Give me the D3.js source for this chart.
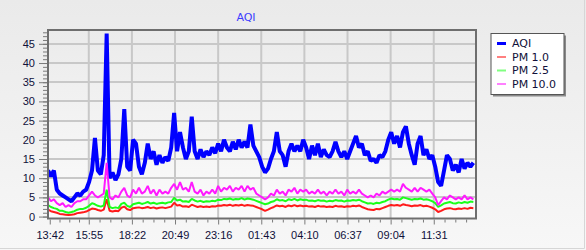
<!DOCTYPE html>
<html>
<head>
<meta charset="utf-8">
<script src="https://cdn.jsdelivr.net/npm/d3@7"></script>
<style>
  body { margin: 0; background: #ffffff; }
  svg { display: block; font-family: "DejaVu Sans", Verdana, sans-serif; }
  .axis text { font-size: 11px; fill: #10103a; }
</style>
</head>
<body>
<div class="aqi-chart"></div>
<script>
var seriesNames = ["AQI", "PM 1.0", "PM 2.5", "PM 10.0"];
var startTime = "13:36";
var stepMinutes = 10;
var xTickLabels = ["13:42", "15:55", "18:22", "20:49", "23:16", "01:43", "04:10", "06:37", "09:04", "11:31"];
var yTicks = [0, 5, 10, 15, 20, 25, 30, 35, 40, 45];

var aqi = [12, 10.5, 12, 7, 6, 5.5, 5, 4.5, 4, 5, 6, 5.5, 6.5, 7, 9, 12, 20.5, 12, 11, 16,
  47.7, 10, 11.5, 9.5, 11, 15, 28, 13, 12, 20, 19, 13, 11, 14, 19, 15, 17, 13.5, 16, 14,
  15.5, 14.5, 18, 27, 17, 22, 18, 15, 17, 26, 17, 15, 17.5, 15.5, 17, 16, 18, 16.5, 19, 17,
  20, 18, 17, 19.5, 17.5, 20, 18, 19.5, 18, 24, 18.5, 17, 15.5, 13, 11.5, 12.5, 15, 17, 22, 17,
  16, 13, 17, 19, 17, 18.5, 17, 20, 18, 15, 18.5, 16, 19, 15.5, 17.5, 16, 15.5, 17, 19.5, 17,
  15.5, 17, 15, 17, 19, 21, 18, 19, 16, 17, 14.5, 15, 14, 16, 15.5, 17, 20, 22, 19, 21,
  18, 22, 23.5, 19, 16, 13.5, 19, 21, 16, 17.5, 15, 16, 13, 9, 8, 12, 16, 15, 12, 13.5,
  11.5, 15, 12.5, 14, 13, 14];

var pm10 = [1.8, 1.4, 1.2, 1, 0.7, 0.6, 0.5, 0.4, 0.5, 0.6, 0.9, 1, 1.1, 1.3, 1.7, 2.1, 2, 1.7, 1.5, 1.8,
  4.5, 1.5, 1.3, 1.5, 1.4, 2.3, 2.6, 1.9, 1.7, 2.2, 2.3, 2.4, 2.2, 2.3, 2.5, 2.2, 2.4, 2.1, 2.3, 2.4,
  2.2, 2.4, 2.6, 3.6, 2.9, 3, 2.6, 2.7, 2.5, 3.1, 2.8, 2.5, 2.7, 2.5, 2.6, 2.5, 2.7, 2.6, 2.9, 2.8,
  3, 2.9, 3.1, 2.8, 3, 2.9, 3.1, 2.8, 3, 2.9, 2.8, 2.5, 2.2, 1.9, 1.5, 1.8, 2.2, 2.5, 2.9, 2.7,
  2.8, 2.5, 2.9, 2.7, 3, 2.7, 2.9, 2.7, 2.8, 2.6, 2.7, 2.5, 2.8, 2.6, 2.7, 2.5, 2.6, 2.5, 2.8, 2.6,
  2.7, 2.5, 2.7, 2.6, 2.8, 2.7, 2.9, 2.5, 2.2, 1.9, 1.8, 1.7, 2, 1.9, 2.2, 2.5, 2.8, 3, 2.9, 3,
  2.8, 3.2, 3, 2.9, 2.7, 2.9, 2.8, 3, 2.7, 2.8, 2.6, 2.3, 1.9, 1.2, 1.5, 1.9, 2.1, 2.2, 2, 1.9,
  2.1, 2, 2.2, 2, 2.3, 2.2];

var pm25 = [3, 2.5, 2.2, 2, 1.5, 1.5, 1.2, 1, 1.2, 1.4, 1.8, 2, 2, 2.3, 2.8, 3.5, 3.2, 2.8, 2.6, 2.9,
  7, 2.5, 2.2, 2.4, 2.2, 3.3, 3.6, 2.8, 2.5, 3.2, 3.4, 3.6, 3.3, 3.5, 3.8, 3.4, 3.6, 3.3, 3.5, 3.6,
  3.4, 3.7, 3.8, 4.9, 4.2, 4.4, 3.9, 4, 3.8, 4.6, 4.2, 3.9, 4.1, 3.8, 4, 3.9, 4.1, 4, 4.4, 4.3,
  4.6, 4.5, 4.7, 4.4, 4.6, 4.5, 4.8, 4.4, 4.7, 4.6, 4.4, 4.1, 3.8, 3.5, 3.2, 3.4, 3.8, 4, 4.5, 4.2,
  4.3, 4, 4.5, 4.3, 4.6, 4.2, 4.5, 4.3, 4.4, 4.1, 4.2, 4, 4.3, 4.1, 4.2, 3.9, 4.1, 4, 4.3, 4.1,
  4.2, 3.9, 4.2, 4.1, 4.3, 4.2, 4.4, 4, 3.7, 3.4, 3.5, 3.3, 3.6, 3.5, 3.8, 4, 4.4, 4.7, 4.5, 4.6,
  4.4, 5, 4.8, 4.6, 4.4, 4.6, 4.5, 4.7, 4.4, 4.5, 4.3, 4, 3.5, 2.5, 2.9, 3.4, 3.6, 3.8, 3.5, 3.4,
  3.7, 3.5, 3.8, 3.6, 3.9, 3.8];

var pm100 = [5, 4, 4.5, 3.5, 3, 3.5, 2.5, 3, 2.5, 3.5, 4, 4, 4.5, 4.5, 5.5, 6.5, 5.5, 5, 5.5, 6,
  14, 5, 4.5, 5.5, 5, 6.5, 7.5, 5.5, 5, 7, 6, 7.5, 6, 6.5, 8, 6, 7, 5.5, 7, 6,
  6.5, 6, 7.5, 8.5, 7, 9, 7, 7.5, 6.5, 9, 6.5, 6, 7, 5.5, 6.5, 6, 7, 6, 8, 6.5,
  7.5, 7, 8, 6.5, 7.5, 7, 8, 6.5, 8, 7, 7.5, 6, 5.5, 5, 4.5, 5, 6, 5.5, 7, 6,
  6.5, 5.5, 7, 6.5, 7.5, 6, 7, 6.5, 7, 6, 6.5, 6, 7, 6, 6.5, 5.5, 6.5, 6, 7, 6,
  6.5, 5.5, 7, 6, 6.5, 6, 7, 6, 5.5, 5, 5.5, 5, 6, 5.5, 6.5, 6, 6.5, 7, 6.5, 7,
  6.5, 8.5, 7.5, 7, 6.5, 7.5, 6.5, 7.5, 7, 6.5, 7, 6, 5, 3, 4, 5, 4.5, 5.5, 5, 4.5,
  5, 4.5, 5.5, 4.5, 5, 4.5];

var seriesValues = [aqi, pm10, pm25, pm100];
var lineColors = ["#0000ff", "#ff1a1a", "#1aff1a", "#ff1aff"];
var legendColors = ["#0000ff", "#ff8080", "#80ff80", "#ff80ff"];
var lineWidths = [4, 2, 2, 2];

var width = 586;
var height = 250;
var plot = { left: 48, right: 476, top: 30, bottom: 218.5 };

/**
 * Turning "HH:MM" labels into dates (day rolls over after midnight)
 */
var parseTime = d3.timeParse("%Y-%m-%d %H:%M");
var t0 = parseTime("2024-01-01 " + startTime);
function toDate(label) {
  var d = parseTime("2024-01-01 " + label);
  if (d < t0) d = d3.timeDay.offset(d, 1);
  return d;
}
var tickDates = xTickLabels.map(toDate);
var tEnd = d3.timeMinute.offset(t0, 1459);

var rows = aqi.map(function(d, i) {
  return { t: d3.timeMinute.offset(t0, i * stepMinutes), i: i };
});

/**
 * Scales
 */
var xScale = d3.scaleTime()
               .domain([t0, tEnd])
               .range([plot.left, plot.right]);

var yScale = d3.scaleLinear()
               .domain([-0.5, 48.6])
               .range([plot.bottom, plot.top]);

/**
 * Minor ticks: 4 steps between each labelled time
 */
var minorDates = [];
for (var k = 0; k < tickDates.length; k++) {
  var a = tickDates[k];
  var b = k < tickDates.length - 1 ? tickDates[k + 1] : d3.timeMinute.offset(a, 147);
  for (var m = 1; m < 4; m++) {
    var d = new Date(+a + (b - a) * m / 4);
    if (d < tEnd) minorDates.push(d);
  }
}

/**
 * Svg and backgrounds
 */
var svg = d3.select(".aqi-chart")
            .append("svg")
            .attr("width", width)
            .attr("height", height);

var defs = svg.append("defs");

var bgGrad = defs.append("linearGradient")
                 .attr("id", "bgGrad")
                 .attr("x1", 0).attr("y1", 0).attr("x2", 0).attr("y2", 1);
bgGrad.append("stop").attr("offset", "0%").attr("stop-color", "#eaeaea");
bgGrad.append("stop").attr("offset", "100%").attr("stop-color", "#f7f7f7");

var plotGrad = defs.append("linearGradient")
                   .attr("id", "plotGrad")
                   .attr("x1", 0).attr("y1", 0).attr("x2", 0).attr("y2", 1);
plotGrad.append("stop").attr("offset", "0%").attr("stop-color", "#ebebeb");
plotGrad.append("stop").attr("offset", "100%").attr("stop-color", "#fbfbfb");

defs.append("clipPath")
    .attr("id", "plotClip")
    .append("rect")
    .attr("x", plot.left)
    .attr("y", plot.top)
    .attr("width", plot.right - plot.left)
    .attr("height", plot.bottom - plot.top);

svg.append("rect")
   .attr("width", width)
   .attr("height", height)
   .attr("fill", "url(#bgGrad)");

svg.append("path")
   .attr("d", "M584.5,0V248.5H0")
   .attr("fill", "none")
   .attr("stroke", "#d6d6d6");

svg.append("rect")
   .attr("x", plot.left)
   .attr("y", plot.top)
   .attr("width", plot.right - plot.left)
   .attr("height", plot.bottom - plot.top)
   .attr("fill", "url(#plotGrad)");

/**
 * Grid lines
 */
svg.append("g")
   .selectAll("line")
   .data(yTicks.slice(1))
   .enter()
   .append("line")
   .attr("x1", plot.left)
   .attr("x2", plot.right)
   .attr("y1", function(d) { return Math.round(yScale(d)); })
   .attr("y2", function(d) { return Math.round(yScale(d)); })
   .attr("stroke", "#c8c8c8")
   .attr("stroke-width", 2);

svg.append("g")
   .selectAll("line")
   .data(tickDates.slice(1))
   .enter()
   .append("line")
   .attr("x1", function(d) { return xScale(d); })
   .attr("x2", function(d) { return xScale(d); })
   .attr("y1", plot.top)
   .attr("y2", plot.bottom)
   .attr("stroke", "#c8c8c8")
   .attr("stroke-width", 2);

/**
 * Lines
 */
var lines = svg.append("g")
               .attr("clip-path", "url(#plotClip)");

seriesValues.forEach(function(values, s) {
  var line = d3.line()
               .x(function(d) { return xScale(d.t); })
               .y(function(d) { return yScale(values[d.i]); });
  lines.append("path")
       .datum(rows)
       .attr("d", line)
       .attr("fill", "none")
       .attr("stroke", lineColors[s])
       .attr("stroke-width", lineWidths[s])
       .attr("stroke-linejoin", "bevel");
});

/**
 * Frame
 */
svg.append("rect")
   .attr("x", plot.left)
   .attr("y", plot.top)
   .attr("width", plot.right - plot.left)
   .attr("height", plot.bottom - plot.top)
   .attr("fill", "none")
   .attr("stroke", "#6e6e6e")
   .attr("stroke-width", 2);

/**
 * Axes
 */
var yAxis = d3.axisLeft(yScale)
              .tickValues(yTicks)
              .tickSize(8)
              .tickPadding(4);

var yMinor = d3.axisLeft(yScale)
               .tickValues(d3.range(0, 49))
               .tickSize(4)
               .tickFormat("");

var xAxis = d3.axisBottom(xScale)
              .tickValues(tickDates)
              .tickSize(5)
              .tickPadding(7)
              .tickFormat(function(d, i) { return xTickLabels[i]; });

var xMinor = d3.axisBottom(xScale)
               .tickValues(minorDates)
               .tickSize(3)
               .tickFormat("");

[yMinor, yAxis].forEach(function(ax) {
  svg.append("g")
     .attr("class", "axis")
     .attr("transform", "translate(" + (plot.left - 1) + ",0)")
     .call(ax)
     .call(function(g) { g.select(".domain").remove(); })
     .call(function(g) { g.selectAll("line").attr("stroke", "#7a7a7a"); });
});

[xMinor, xAxis].forEach(function(ax) {
  svg.append("g")
     .attr("class", "axis")
     .attr("transform", "translate(0," + (plot.bottom + 1) + ")")
     .call(ax)
     .call(function(g) { g.select(".domain").remove(); })
     .call(function(g) { g.selectAll("line").attr("stroke", "#7a7a7a"); });
});

/**
 * Title
 */
svg.append("text")
   .attr("x", 246)
   .attr("y", 21)
   .attr("text-anchor", "middle")
   .attr("font-size", 11)
   .attr("fill", "#3c3cff")
   .text("AQI");

/**
 * Legend
 */
var legend = svg.append("g")
                .attr("transform", "translate(491,33.5)");

legend.append("rect")
      .attr("x", 2)
      .attr("y", 2)
      .attr("width", 73)
      .attr("height", 61)
      .attr("fill", "#8a8a8a");

legend.append("rect")
      .attr("x", 0)
      .attr("y", 0)
      .attr("width", 73)
      .attr("height", 61)
      .attr("fill", "#ffffff")
      .attr("stroke", "#555555");

var items = legend.selectAll("g.item")
                  .data(seriesNames)
                  .enter()
                  .append("g")
                  .attr("class", "item")
                  .attr("transform", function(d, i) {
                    return "translate(0," + (10 + i * 13.5) + ")";
                  });

items.append("line")
     .attr("x1", 6)
     .attr("x2", 15)
     .attr("stroke", function(d, i) { return legendColors[i]; })
     .attr("stroke-width", function(d, i) { return i === 0 ? 3 : 2; });

items.append("text")
     .attr("x", 21)
     .attr("dy", "0.35em")
     .attr("font-size", 11)
     .attr("fill", "#10103a")
     .text(function(d) { return d; });
</script>
</body>
</html>
